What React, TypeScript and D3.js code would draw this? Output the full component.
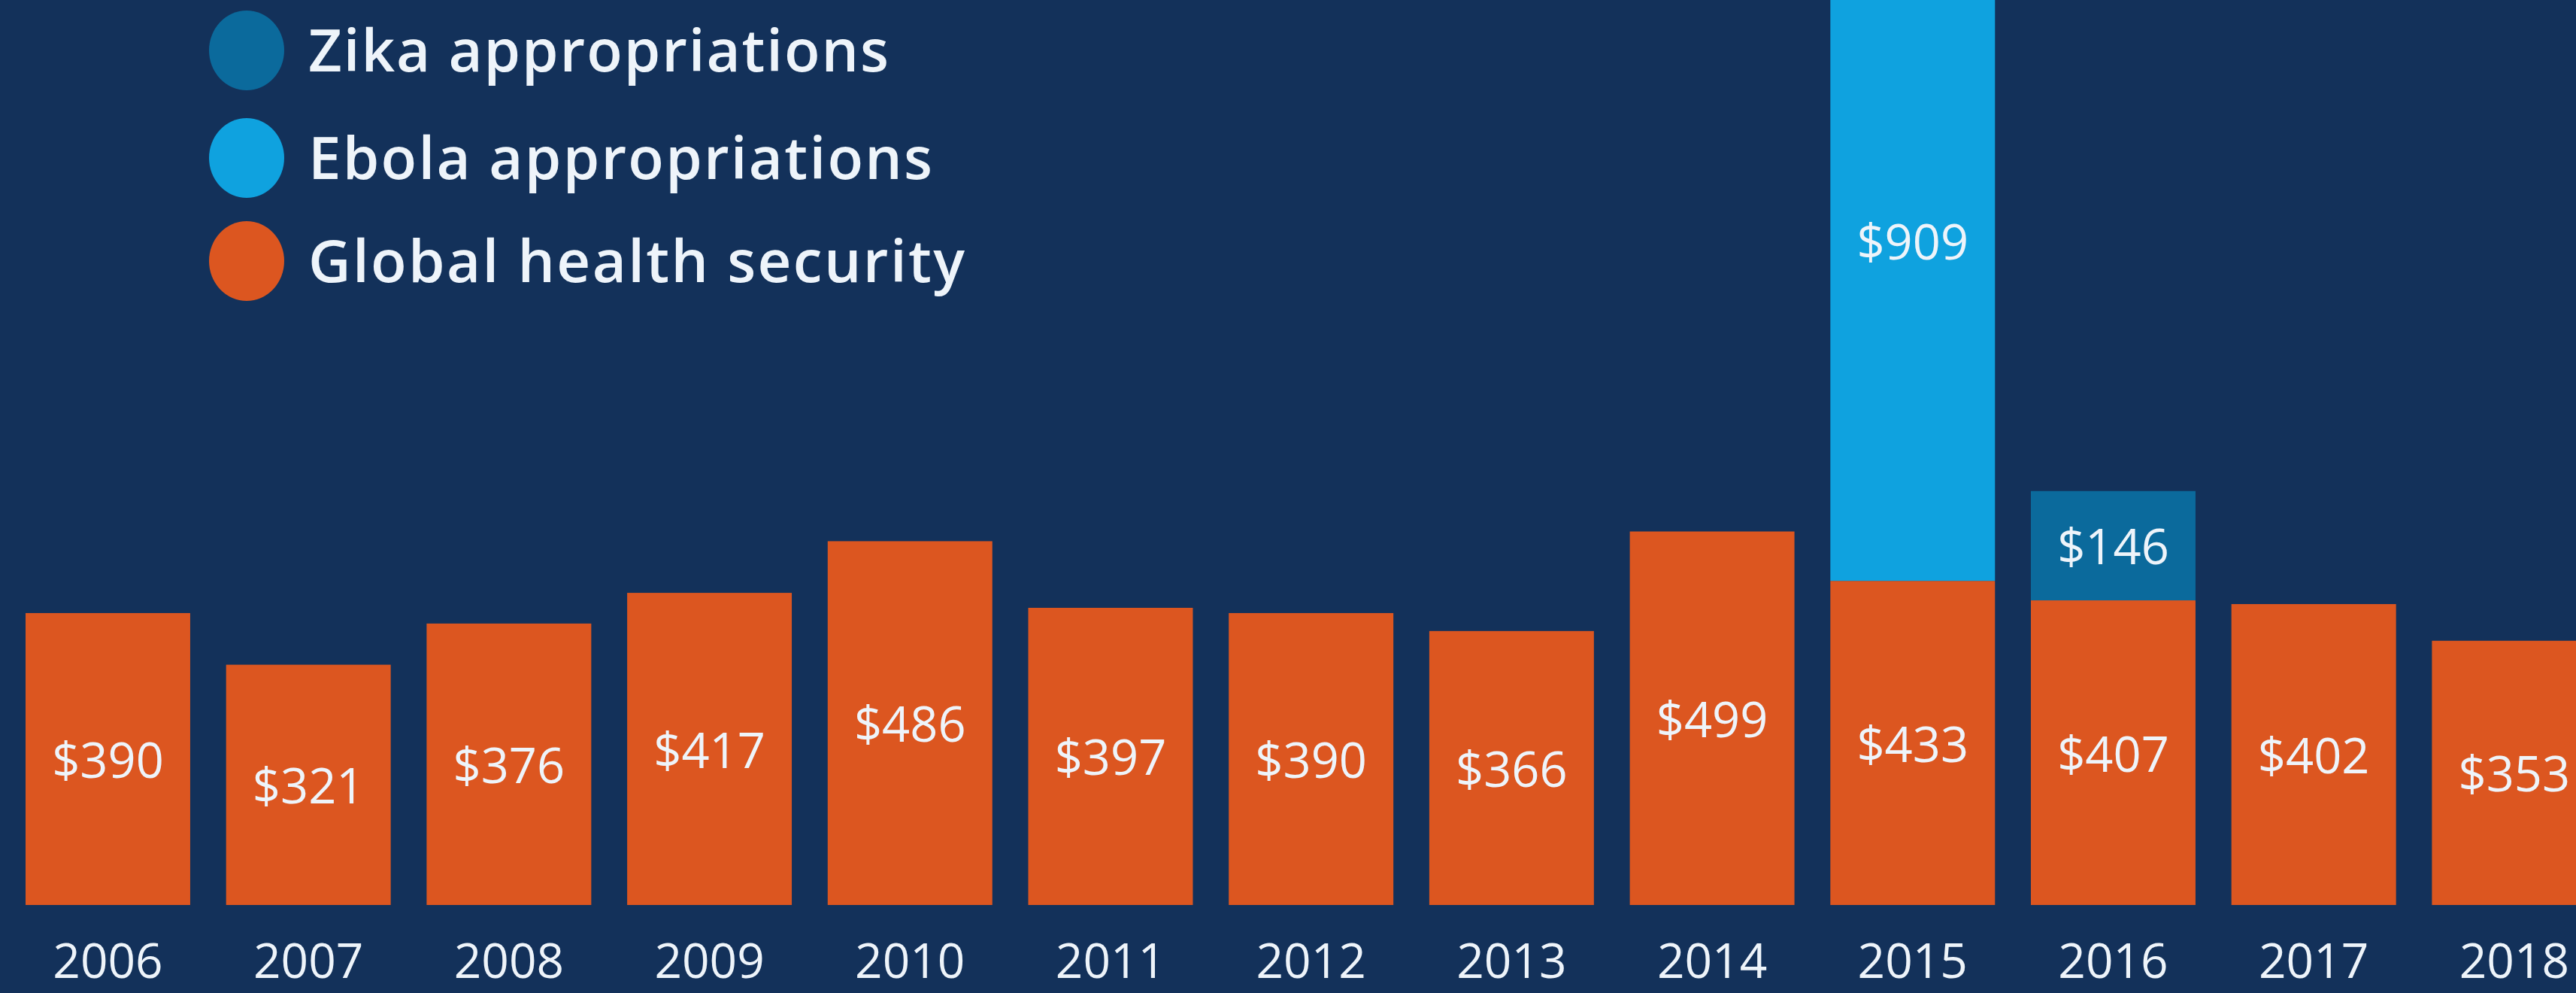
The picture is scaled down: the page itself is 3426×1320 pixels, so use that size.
import React from "react";
import * as d3 from "d3";

const years = ["2006", "2007", "2008", "2009", "2010", "2011", "2012", "2013", "2014", "2015", "2016", "2017", "2018"];
const globalHealth = [390, 321, 376, 417, 486, 397, 390, 366, 499, 433, 407, 402, 353];
const ebola = [0, 0, 0, 0, 0, 0, 0, 0, 0, 909, 0, 0, 0];
const zika = [0, 0, 0, 0, 0, 0, 0, 0, 0, 0, 146, 0, 0];

const seriesKeys = ["global", "ebola", "zika"];
const seriesNames = ["Zika appropriations", "Ebola appropriations", "Global health security"];
const legendKeys = ["zika", "ebola", "global"];

const W = 3426;
const H = 1320;
const BG = "#13315a";
const COLORS: Record<string, string> = {
  global: "#dc5620",
  ebola: "#0fa2df",
  zika: "#0b6a9c",
};
const TEXT = "#eef4fa";
const FONT = "'Open Sans', 'Noto Sans', sans-serif";

export default function App() {
  const rows = years.map((y, i) => ({ year: y, global: globalHealth[i], ebola: ebola[i], zika: zika[i] }));
  const stack = d3.stack<any>().keys(seriesKeys);
  const layers = stack(rows);

  const step = 266.7;
  const x0 = 34 - 0.0895 * step;
  const x = d3
    .scaleBand<string>()
    .domain(years)
    .range([x0, x0 + years.length * step])
    .paddingInner(0.179)
    .paddingOuter(0.0895);

  const baseY = 1203;
  const y = d3.scaleLinear().domain([0, 1000]).range([baseY, baseY - 995]);

  const legendY = [67, 210, 347];
  const legendLen = [772, 830, 873];

  return (
    <svg
      width={W}
      height={H}
      style={{ position: "absolute", left: 0, top: 0, display: "block", background: BG }}
    >
      <rect x={0} y={0} width={W} height={H} fill={BG} />
      {layers.map((layer) => (
        <g key={layer.key}>
          {layer.map((d, i) => {
            const v = d[1] - d[0];
            if (v <= 0) return null;
            const top = y(d[1]);
            const bot = y(d[0]);
            const bx = x(years[i]) as number;
            return (
              <g key={years[i]}>
                <rect x={bx} y={top} width={x.bandwidth()} height={bot - top} fill={COLORS[layer.key]} />
                <text
                  x={bx + x.bandwidth() / 2}
                  y={(top + bot) / 2}
                  textAnchor="middle"
                  dominantBaseline="central"
                  fill={TEXT}
                  fontFamily={FONT}
                  fontSize={65}
                >
                  {"$" + v}
                </text>
              </g>
            );
          })}
        </g>
      ))}
      {years.map((yr) => (
        <text
          key={yr}
          x={(x(yr) as number) + x.bandwidth() / 2}
          y={1300}
          textAnchor="middle"
          fill={TEXT}
          fontFamily={FONT}
          fontSize={64}
        >
          {yr}
        </text>
      ))}
      {legendKeys.map((k, i) => (
        <g key={k}>
          <ellipse cx={328} cy={legendY[i]} rx={50} ry={53} fill={COLORS[k]} />
          <text
            x={410}
            y={legendY[i] + 28}
            fill={TEXT}
            fontFamily={FONT}
            fontSize={78}
            fontWeight={600}
            textLength={legendLen[i]}
            lengthAdjust="spacing"
          >
            {seriesNames[i]}
          </text>
        </g>
      ))}
    </svg>
  );
}
